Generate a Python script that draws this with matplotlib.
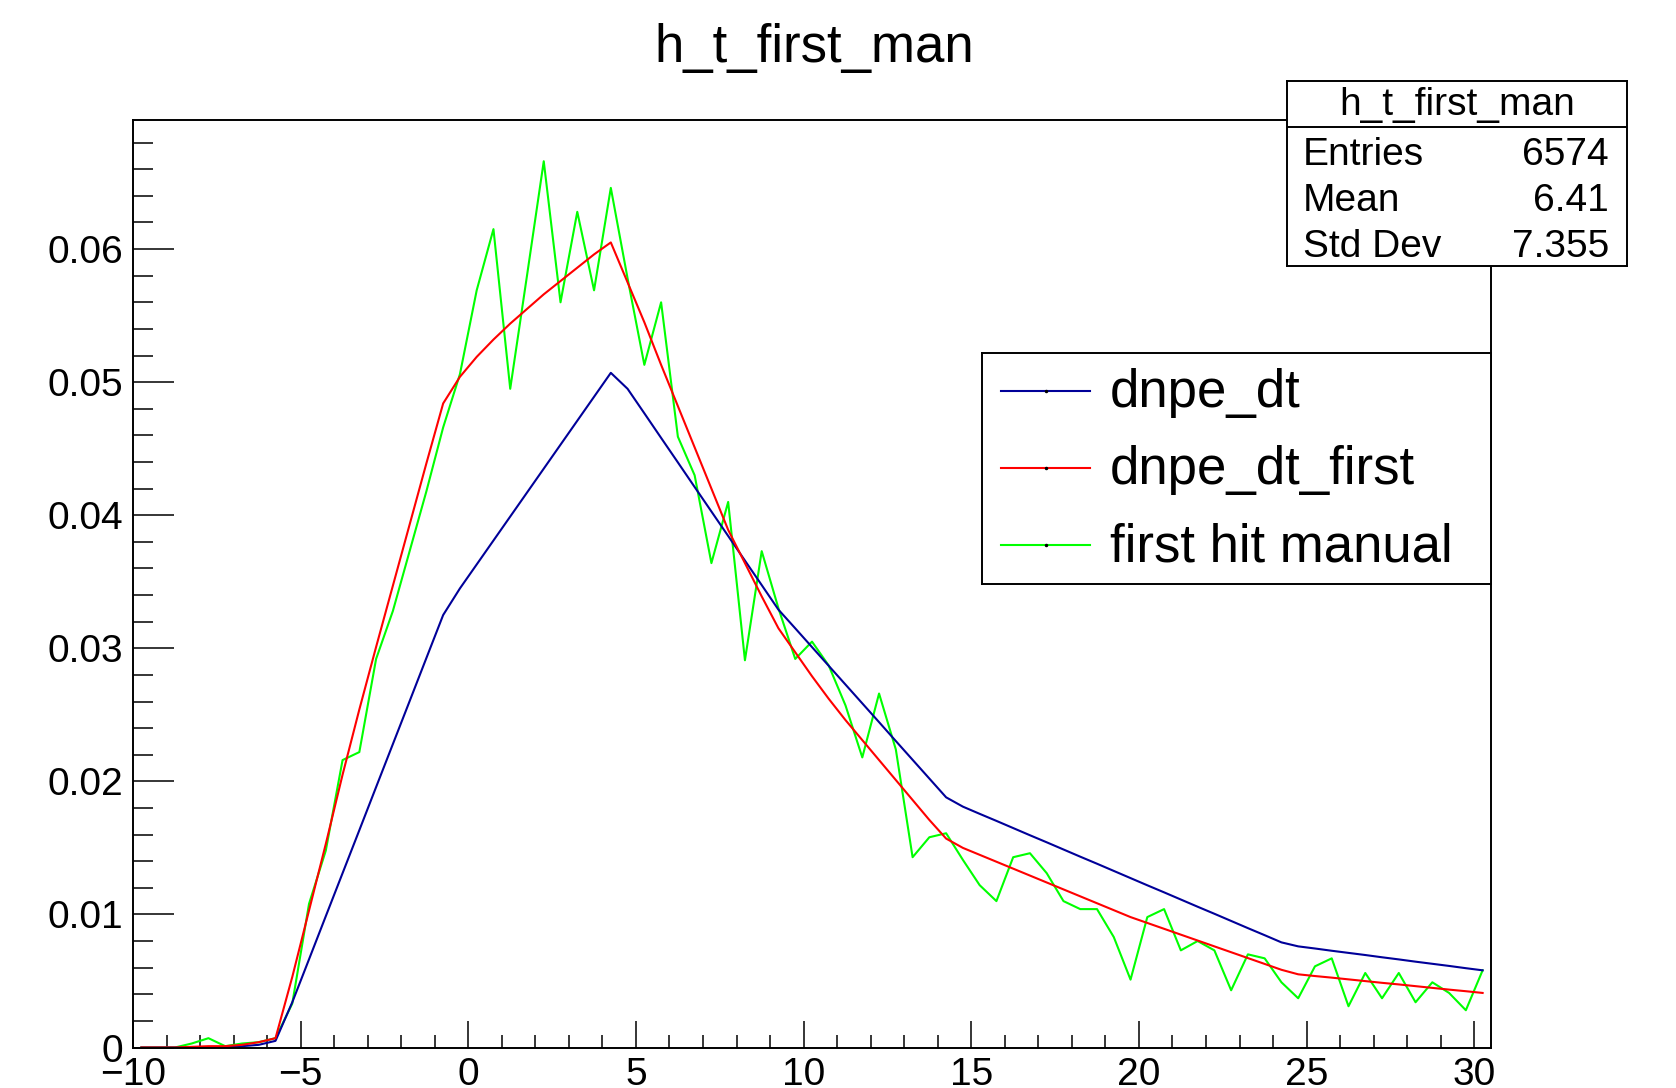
import numpy as np
import matplotlib
matplotlib.use("Agg")
import matplotlib.pyplot as plt
from matplotlib.ticker import MultipleLocator, FixedLocator, FixedFormatter

plt.rcParams['font.family'] = ['Liberation Sans', 'DejaVu Sans']

# histogram binning: 0.5 wide bins from -10 to 30.5, values given at bin centres
t_low, t_high, bin_w = -10.0, 30.5, 0.5
t_centers = np.arange(t_low + bin_w / 2, t_high, bin_w)

# "first hit manual" (h_t_first_man)
first_hit_manual = [
    0, 0, 0, 0.0003, 0.0007, 0.0001, 0.0003, 0.0004, 0.0007, 0.0033,
    0.0108, 0.0148, 0.0216, 0.0222, 0.0292, 0.0328, 0.0373, 0.0418, 0.0466, 0.0506,
    0.0569, 0.0615, 0.0495, 0.0580, 0.0666, 0.0560, 0.0628, 0.0569, 0.0646, 0.0578,
    0.0513, 0.0560, 0.0459, 0.0430, 0.0364, 0.0410, 0.0291, 0.0373, 0.0330, 0.0292,
    0.0305, 0.0287, 0.0257, 0.0218, 0.0266, 0.0224, 0.0143, 0.0158, 0.0161, 0.0141,
    0.0122, 0.0110, 0.0143, 0.0146, 0.0131, 0.0110, 0.0104, 0.0104, 0.0083, 0.0051,
    0.0098, 0.0104, 0.0073, 0.0080, 0.0073, 0.0043, 0.0070, 0.0067, 0.0049, 0.0037,
    0.0061, 0.0067, 0.0031, 0.0056, 0.0037, 0.0056, 0.0034, 0.0049, 0.0041, 0.0028,
    0.0058,
]

dnpe_dt_first = [
    0, 0, 0, 0.00005, 0.0001, 0.0001, 0.0002, 0.0004, 0.0007, 0.0053,
    0.0103, 0.0153, 0.0205, 0.0254, 0.0301, 0.0347, 0.0393, 0.0439, 0.0484, 0.0504,
    0.0519, 0.0532, 0.0544, 0.0555, 0.0566, 0.0576, 0.0586, 0.0596, 0.0605, 0.0575,
    0.0545, 0.0513, 0.0482, 0.0451, 0.0420, 0.0389, 0.0364, 0.0339, 0.0315, 0.0297,
    0.0279, 0.0262, 0.0246, 0.0231, 0.0216, 0.0201, 0.0186, 0.0171, 0.0157, 0.0150,
    0.01448, 0.01396, 0.01344, 0.01292, 0.0124, 0.01188, 0.01136, 0.01084, 0.01032, 0.0098,
    0.00936, 0.00892, 0.00848, 0.00804, 0.0076, 0.00716, 0.00672, 0.00628, 0.00584, 0.0055,
    0.00537, 0.00525, 0.00512, 0.00499, 0.00486, 0.00474, 0.00461, 0.00448, 0.00435, 0.00423,
    0.0041,
]

dnpe_dt = [
    0, 0, 0, 0, 0, 0, 0.0001, 0.0002, 0.0005, 0.0034,
    0.00663, 0.00987, 0.0131, 0.01633, 0.01957, 0.0228, 0.02603, 0.02927, 0.0325, 0.0345,
    0.0363, 0.0381, 0.0399, 0.0417, 0.0435, 0.0453, 0.0471, 0.0489, 0.0507, 0.0495,
    0.04766, 0.04581, 0.04397, 0.04212, 0.04028, 0.03844, 0.03659, 0.03475, 0.0329, 0.0315,
    0.03009, 0.02868, 0.02727, 0.02586, 0.02445, 0.02303, 0.02162, 0.02021, 0.0188, 0.0181,
    0.01756, 0.01703, 0.01649, 0.01595, 0.01542, 0.01488, 0.01434, 0.01381, 0.01327, 0.01273,
    0.01219, 0.01166, 0.01112, 0.01058, 0.01005, 0.00951, 0.00897, 0.00844, 0.0079, 0.0076,
    0.00744, 0.00727, 0.00711, 0.00695, 0.00678, 0.00662, 0.00645, 0.00629, 0.00613, 0.00596,
    0.0058,
]

series_names = ["dnpe_dt", "dnpe_dt_first", "first hit manual"]
series_colors = ["#000099", "#ff0000", "#00ff00"]

x_ticks = [-10, -5, 0, 5, 10, 15, 20, 25, 30]
y_ticks = [0, 0.01, 0.02, 0.03, 0.04, 0.05, 0.06]
y_tick_labels = ["0", "0.01", "0.02", "0.03", "0.04", "0.05", "0.06"]

stats_title = "h_t_first_man"
stats_rows = [("Entries", "6574"), ("Mean", "6.41"), ("Std Dev", "7.355")]

W, H = 1676.0, 1088.0
fig = plt.figure(figsize=(W / 100, H / 100), dpi=100)
fig.patch.set_facecolor("white")

# main pad
ax = fig.add_axes([133 / W, 1 - 1047.5 / H, 1358 / W, 927.5 / H])
ax.plot(t_centers, first_hit_manual, color=series_colors[2], lw=1.5)
ax.plot(t_centers, dnpe_dt, color=series_colors[0], lw=1.5)
ax.plot(t_centers, dnpe_dt_first, color=series_colors[1], lw=1.5)

ax.set_xlim(t_low, t_high)
ax.set_ylim(0, 0.0697)
for sp in ax.spines.values():
    sp.set_linewidth(1.4)

ax.xaxis.set_major_locator(FixedLocator(x_ticks))
ax.xaxis.set_major_formatter(FixedFormatter([str(v).replace("-", "\u2212") for v in x_ticks]))
ax.xaxis.set_minor_locator(MultipleLocator(1))
ax.yaxis.set_major_locator(FixedLocator(y_ticks))
ax.yaxis.set_major_formatter(FixedFormatter(y_tick_labels))
ax.yaxis.set_minor_locator(MultipleLocator(0.002))

ax.tick_params(which="both", direction="in", top=False, right=False,
               labelsize=28, width=1.1, pad=7)
ax.tick_params(axis="y", which="major", length=29.5)
ax.tick_params(axis="y", which="minor", length=14.4)
ax.tick_params(axis="x", which="major", length=19.4)
ax.tick_params(axis="x", which="minor", length=9.7)

# title
fig.text(814 / W, 1 - 62 / H, "h_t_first_man", ha="center", va="baseline", fontsize=38)

# legend box (drawn by hand, ROOT style)
lx0, ly0, lx1, ly1 = 982, 352.7, 1491, 584
lax = fig.add_axes([lx0 / W, 1 - ly1 / H, (lx1 - lx0) / W, (ly1 - ly0) / H])
lax.set_xlim(0, lx1 - lx0)
lax.set_ylim(ly1 - ly0, 0)
lax.set_xticks([])
lax.set_yticks([])
for sp in lax.spines.values():
    sp.set_linewidth(1.4)
line_y = [38.3, 115, 192.3]
text_base = [54, 131.3, 209]
for name, col, yl, yb in zip(series_names, series_colors, line_y, text_base):
    lax.plot([19, 108], [yl, yl], color=col, lw=1.5)
    lax.plot([63.5], [yl], marker="o", ms=1.5, color="black")
    lax.text(128, yb, name, fontsize=38, ha="left", va="baseline")

# stats box
sx0, sy0, sx1, sy1 = 1287, 80.7, 1627, 265.7
sax = fig.add_axes([sx0 / W, 1 - sy1 / H, (sx1 - sx0) / W, (sy1 - sy0) / H])
sax.set_xlim(0, sx1 - sx0)
sax.set_ylim(sy1 - sy0, 0)
sax.set_xticks([])
sax.set_yticks([])
for sp in sax.spines.values():
    sp.set_linewidth(1.4)
sax.axhline(46, color="black", lw=1.4)
sax.text((sx1 - sx0) / 2, 34.3, stats_title, fontsize=28, ha="center", va="baseline")
for (lab, val), yb in zip(stats_rows, [84, 130, 176]):
    sax.text(16, yb, lab, fontsize=28, ha="left", va="baseline")
    sax.text(322, yb, val, fontsize=28, ha="right", va="baseline")

fig.savefig("out.png", dpi=100)
